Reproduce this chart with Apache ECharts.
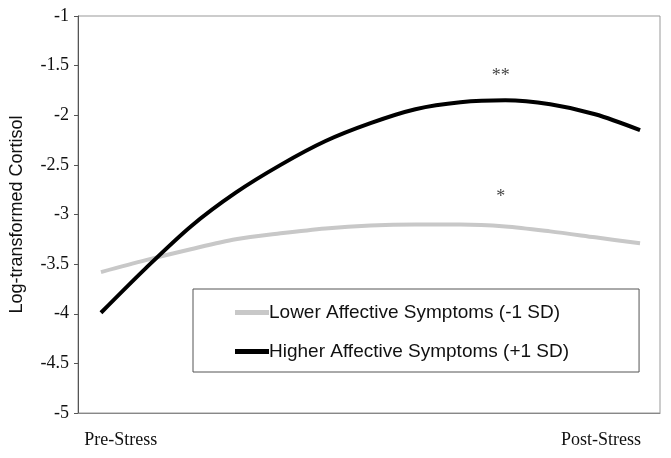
<!DOCTYPE html>
<html><head><meta charset="utf-8">
<script src="https://cdn.jsdelivr.net/npm/echarts@6/dist/echarts.min.js"></script>
<style>html,body{margin:0;padding:0;background:#fff}#c{width:671px;height:458px}</style>
</head><body><div id="c"></div>
<script>
// Data
const timePoints = [0,1,2,3,4,5,6,7,8,9,10,11,12];
const lowerSymptoms = [-3.58,-3.46,-3.35,-3.25,-3.19,-3.14,-3.11,-3.10,-3.10,-3.12,-3.17,-3.23,-3.29];
const higherSymptoms = [-3.99,-3.54,-3.12,-2.78,-2.50,-2.26,-2.08,-1.94,-1.87,-1.85,-1.89,-1.99,-2.15];
const seriesNames = ['Lower Affective Symptoms (-1 SD)','Higher Affective Symptoms (+1 SD)'];
const xLabels = ['Pre-Stress','Post-Stress'];
const yTicks = [-5,-4.5,-4,-3.5,-3,-2.5,-2,-1.5,-1];
const sigMarks = [{x:8.9, y:-1.61, text:'**'},{x:8.9, y:-2.83, text:'*'}];

const xLabelPos = [0.44, 11.13];

const chart = echarts.init(document.getElementById('c'));
chart.setOption({
  animation:false,
  backgroundColor:'#fff',
  grid:{left:77,right:11,top:16,bottom:45,show:true,borderColor:'#999',borderWidth:1,containLabel:false},
  xAxis:{type:'value',min:-0.511,max:12.444,splitLine:{show:false},
    axisLine:{show:true,onZero:false,lineStyle:{color:'#888',width:1}},axisTick:{show:false},
    axisLabel:{customValues:xLabelPos,formatter:(v)=>{const i=xLabelPos.indexOf(v);return i>=0?xLabels[i]:'';},
      fontFamily:'Liberation Serif',fontSize:18,color:'#111',margin:18}},
  yAxis:{type:'value',min:yTicks[0],max:yTicks[yTicks.length-1],interval:0.5,splitLine:{show:false},
    axisLine:{show:true,onZero:false,lineStyle:{color:'#555',width:1}},
    axisTick:{show:true,length:4,inside:false,lineStyle:{color:'#555'}},
    axisLabel:{fontFamily:'Liberation Serif',fontSize:18,color:'#111',margin:9},
    name:'Log-transformed Cortisol',nameLocation:'middle',nameGap:52,
    nameTextStyle:{fontFamily:'Liberation Sans',fontSize:18,color:'#111'}},
  legend:{orient:'vertical',left:193,top:289,
    data:seriesNames.map(n=>({name:n,icon:'rect'})),
    borderColor:'#555',borderWidth:1,padding:[14,70,11,42],itemGap:20,
    itemWidth:34,itemHeight:5,
    textStyle:{fontFamily:'Liberation Sans',fontSize:19,color:'#111',padding:[0,0,0,-5]}},
  series:[
    {name:seriesNames[0],type:'line',smooth:0.3,symbol:'none',
      data:timePoints.map((t,i)=>[t,lowerSymptoms[i]]),
      lineStyle:{color:'#c8c8c8',width:4},itemStyle:{color:'#c8c8c8'}},
    {name:seriesNames[1],type:'line',smooth:0.3,symbol:'none',
      data:timePoints.map((t,i)=>[t,higherSymptoms[i]]),
      lineStyle:{color:'#000',width:4},itemStyle:{color:'#000'}},
    {type:'scatter',symbolSize:0,silent:true,legendHoverLink:false,
      data:sigMarks.map(m=>({value:[m.x,m.y],label:{show:true,position:'inside',formatter:m.text,
        fontFamily:'Liberation Serif',fontSize:18,color:'#111'}}))}
  ]
});
</script></body></html>
